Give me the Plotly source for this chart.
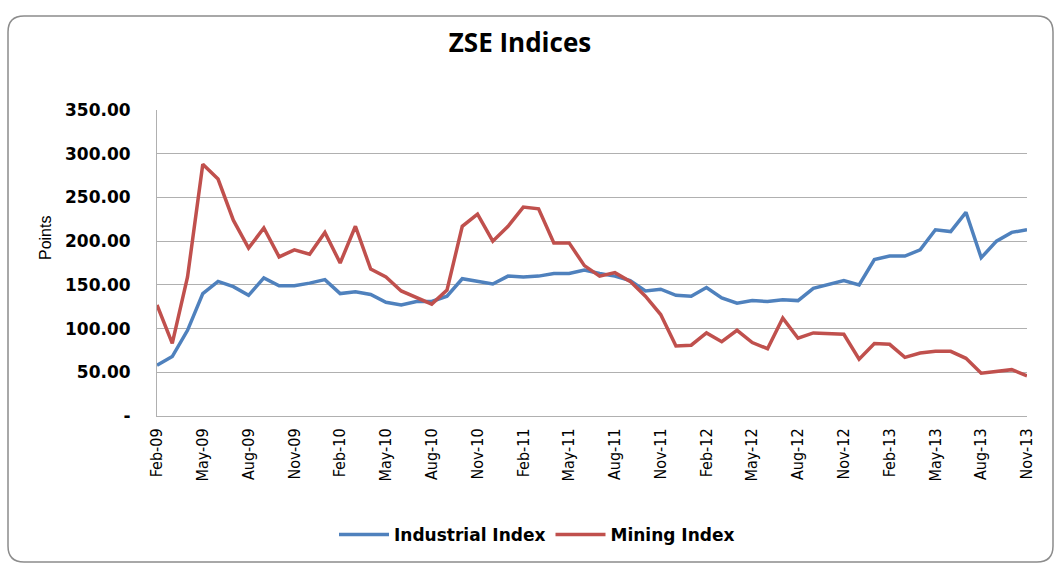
import pandas as pd
import plotly.graph_objects as go

months = pd.date_range("2009-02-01", "2013-11-01", freq="MS").strftime("%b-%y").tolist()

industrial = [58, 68, 98, 140, 154, 148, 138, 158, 149, 149, 152, 156, 140, 142, 139, 130,
              127, 131, 131, 137, 157, 154, 151, 160, 159, 160, 163, 163, 167, 163, 160, 155,
              143, 145, 138, 137, 147, 135, 129, 132, 131, 133, 132, 146, 151, 155, 150, 179,
              183, 183, 190, 213, 211, 233, 181, 200, 210, 213]
mining = [127, 83, 159, 288, 271, 224, 192, 215, 182, 190, 185, 210, 175, 217, 168, 159,
          143, 135, 128, 144, 217, 231, 200, 217, 239, 237, 198, 198, 172, 160, 164, 154,
          137, 116, 80, 81, 95, 85, 98, 84, 77, 112, 89, 95, 94.5, 93.5, 65, 83,
          82, 67, 72, 74, 74, 66, 49, 51, 53, 46]

y_tickvals = [0, 50, 100, 150, 200, 250, 300, 350]
y_ticktext = ["-", "50.00", "100.00", "150.00", "200.00", "250.00", "300.00", "350.00"]

idx = list(range(len(months)))
x_tickvals = idx[::3]
x_ticktext = months[::3]

W, H = 1059, 568
L, R, T, B = 157, 32, 110, 152
pw, ph = W - L - R, H - T - B

def px(x):
    return (x - L) / pw

def py(y):
    return (H - B - y) / ph

fig = go.Figure()
fig.add_trace(go.Scatter(x=idx, y=industrial, mode="lines", name="Industrial Index",
                         line=dict(color="#4F81BD", width=3.5)))
fig.add_trace(go.Scatter(x=idx, y=mining, mode="lines", name="Mining Index",
                         line=dict(color="#C0504D", width=3.5)))

# rounded outer border
x0, x1, y0, y1, r = 8, 1053, 16, 562, 16
path = (f"M {px(x0 + r)} {py(y0)} L {px(x1 - r)} {py(y0)} "
        f"Q {px(x1)} {py(y0)} {px(x1)} {py(y0 + r)} L {px(x1)} {py(y1 - r)} "
        f"Q {px(x1)} {py(y1)} {px(x1 - r)} {py(y1)} L {px(x0 + r)} {py(y1)} "
        f"Q {px(x0)} {py(y1)} {px(x0)} {py(y1 - r)} L {px(x0)} {py(y0 + r)} "
        f"Q {px(x0)} {py(y0)} {px(x0 + r)} {py(y0)} Z")
fig.add_shape(type="path", path=path, xref="paper", yref="paper",
              line=dict(color="#8C8C8C", width=1.5), layer="below")

fig.add_annotation(text="Points", textangle=-90, x=px(45), y=py(238), xref="paper", yref="paper",
                   xanchor="center", yanchor="middle", showarrow=False,
                   font=dict(family="Liberation Sans, Arial, sans-serif", size=16, color="#000"))

fig.update_layout(
    width=W, height=H,
    margin=dict(l=L, r=R, t=T, b=B),
    paper_bgcolor="white", plot_bgcolor="white",
    title=dict(text="<b>ZSE Indices</b>", x=520 / W, xanchor="center", y=1 - 43 / H, yanchor="middle",
               xref="container", yref="container",
               font=dict(family="Open Sans, sans-serif", size=26, color="#000")),
    showlegend=True,
    legend=dict(orientation="h", x=px(537), xanchor="center", y=py(535), yanchor="middle",
                font=dict(family="DejaVu Sans, sans-serif", size=17, color="#000", weight="bold"),
                itemwidth=50, tracegroupgap=0),
    xaxis=dict(range=[0, len(months) - 1], tickmode="array", tickvals=x_tickvals, ticktext=x_ticktext,
               tickangle=-90, showgrid=False, zeroline=False, showline=True, linecolor="#B0B0B0",
               linewidth=1, ticks="", ticklabelstandoff=5,
               tickfont=dict(family="DejaVu Sans Condensed, DejaVu Serif", size=16, color="#000")),
    yaxis=dict(range=[0, 350], tickmode="array", tickvals=y_tickvals, ticktext=y_ticktext,
               showgrid=True, gridcolor="#B0B0B0", gridwidth=1, zeroline=False,
               showline=True, linecolor="#B0B0B0", linewidth=1, ticks="", ticklabelstandoff=22,
               tickfont=dict(family="DejaVu Sans, sans-serif", size=17, color="#000", weight="bold")),
)

fig.write_html("out.html", config={"displayModeBar": False},
               post_script="document.body.style.margin='0';")
